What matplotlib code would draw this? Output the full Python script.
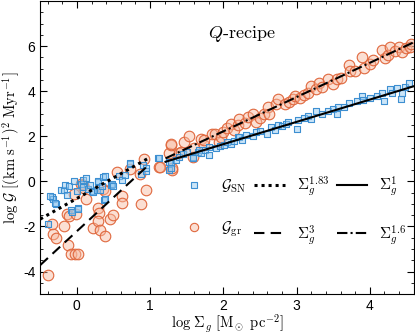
import numpy as np
import matplotlib
matplotlib.use('Agg')
import matplotlib.pyplot as plt
from matplotlib.lines import Line2D
from matplotlib.ticker import MultipleLocator

plt.rcParams['font.family'] = ['Liberation Sans', 'DejaVu Sans']
plt.rcParams['mathtext.fontset'] = 'cm'
plt.rcParams['axes.unicode_minus'] = False

# G_SN points (blue squares): log Sigma_g, log G
sn_x = [-0.39, -0.34, -0.33, -0.29, -0.37, -0.30, -0.21, -0.17, -0.16, -0.14, -0.11, -0.08,
        -0.06, -0.04, 0.00, 0.01, 0.02, 0.05, 0.08, 0.09, 0.12, 0.15, 0.18, 0.20, 0.22, 0.28,
        0.29, 0.29, 0.31, 0.34, 0.36, 0.37, 0.39, 0.39, 0.46, 0.48, 0.50, 0.57, 0.62, 0.66,
        0.72, 0.73, 0.87, 0.90, 0.94, 0.94, 1.11, 1.12, 1.26, 1.26, 1.28, 1.29, 1.35, 1.40,
        1.45, 1.51, 1.58, 1.58, 1.65, 1.67, 1.69, 1.75, 1.81, 1.81, 1.90, 1.95, 2.01, 2.05,
        2.10, 2.15, 2.20, 2.22, 2.25, 2.31, 2.40, 2.45, 2.50, 2.59, 2.65, 2.70, 2.75, 2.80,
        2.86, 2.88, 3.00, 3.02, 3.10, 3.16, 3.20, 3.27, 3.35, 3.43, 3.50, 3.55, 3.57, 3.65,
        3.71, 3.82, 3.89, 3.91, 4.00, 4.10, 4.17, 4.20, 4.28, 4.30, 4.37, 4.42, 4.44, 4.48,
        4.53]
sn_y = [-1.89, -0.68, -0.77, -0.99, -0.65, -0.94, -0.36, -0.39, -0.14, -0.61, -0.19, -1.27,
        -1.35, 0.02, -0.41, -1.16, -1.24, -0.10, -0.26, 0.07, 0.15, -0.35, -0.14, -0.44, -0.46,
        -0.36, -0.04, 0.00, -0.39, -0.22, 0.19, -0.83, 0.22, -0.80, -0.17, -0.12, -0.22, 0.25,
        0.04, 0.29, 0.77, 0.80, 0.32, 0.73, 0.44, 0.58, 1.02, 1.02, 0.87, 0.50, 0.80, 0.60,
        0.95, 1.10, 1.20, 1.31, 1.09, 1.02, 1.30, 1.38, 1.24, 1.40, 1.17, 1.53, 1.46, 1.55,
        1.60, 1.75, 1.68, 1.80, 1.97, 1.97, 1.85, 2.04, 2.00, 2.18, 2.25, 2.11, 2.40, 2.30,
        2.48, 2.45, 2.55, 2.62, 2.33, 2.72, 2.80, 2.91, 2.75, 3.13, 3.00, 3.10, 3.20, 3.01,
        3.28, 3.30, 3.49, 3.57, 3.79, 3.60, 3.70, 3.80, 3.93, 3.57, 4.08, 3.90, 4.15, 3.64,
        3.93, 4.20, 4.37]

# G_gr points (orange circles)
gr_x = [-0.39, -0.34, -0.33, -0.28, -0.17, -0.14, -0.11, -0.12, -0.08, -0.04, -0.01, -0.03,
        0.01, 0.05, 0.09, 0.10, 0.12, 0.22, 0.29, 0.30, 0.29, 0.31, 0.35, 0.38, 0.39, 0.45,
        0.49, 0.55, 0.62, 0.62, 0.73, 0.86, 0.87, 0.91, 0.95, 1.12, 1.14, 1.26, 1.28, 1.28,
        1.30, 1.30, 1.39, 1.42, 1.46, 1.53, 1.58, 1.60, 1.70, 1.74, 1.74, 1.85, 1.88, 1.94,
        1.97, 2.00, 2.05, 2.10, 2.15, 2.20, 2.22, 2.30, 2.33, 2.40, 2.45, 2.50, 2.55, 2.61,
        2.63, 2.72, 2.75, 2.84, 2.90, 2.95, 2.98, 3.05, 3.10, 3.16, 3.20, 3.27, 3.30, 3.35,
        3.43, 3.50, 3.55, 3.60, 3.71, 3.73, 3.80, 3.89, 3.92, 4.00, 4.05, 4.17, 4.21, 4.25,
        4.28, 4.35, 4.40, 4.44, 4.50, 4.55, 4.56]
gr_y = [-4.15, -1.89, -2.33, -2.50, -1.99, -1.45, -1.53, -2.84, -3.20, -0.58, -1.45, -3.22,
        -3.24, -0.10, -0.14, -0.30, -0.80, -2.07, -1.19, -1.41, -1.75, -2.14, -0.35, -2.44,
        -0.44, -1.67, -1.48, 0.41, -0.65, -0.97, 0.54, 0.32, -1.02, 0.99, -0.36, 0.66, 0.66,
        1.24, 1.63, 1.68, 0.51, 0.58, 1.24, 1.31, 1.75, 2.00, 1.09, 1.50, 1.90, 1.60, 1.82,
        2.11, 2.11, 1.75, 1.97, 2.20, 2.35, 2.55, 2.30, 2.48, 2.77, 2.60, 2.84, 2.99, 2.62,
        2.80, 3.00, 3.28, 2.99, 3.42, 3.64, 3.42, 3.50, 3.64, 3.79, 3.70, 3.85, 3.93, 4.22,
        4.08, 4.37, 4.20, 4.52, 4.30, 4.52, 4.60, 5.17, 4.88, 4.90, 5.53, 5.02, 5.20, 5.40,
        5.82, 5.46, 5.60, 5.97, 5.80, 5.97, 5.75, 5.90, 5.95, 6.11]

# fitted power laws (endpoints in log space)
fit_sn_low_x = [-0.5, 1.0]
fit_sn_low_y = [-1.67, 1.07]
fit_gr_low_x = [-0.5, 0.95]
fit_gr_low_y = [-3.71, 0.64]
fit_sn_high_x = [1.21, 4.6]
fit_sn_high_y = [0.87, 4.22]
fit_gr_high_x = [1.21, 4.6]
fit_gr_high_y = [1.02, 6.17]

blue_face = (0.60, 0.80, 0.95, 0.5)
blue_edge = '#3d8fd1'
orange_face = (0.97, 0.72, 0.62, 0.45)
orange_edge = '#e0683e'

fig = plt.figure(figsize=(4.15, 3.35), dpi=100)
ax = fig.add_axes([0.097, 0.122, 0.9, 0.875])

ax.scatter(gr_x, gr_y, s=58, marker='o', facecolor=orange_face, edgecolor=orange_edge,
           linewidth=0.8, zorder=2)
ax.scatter(sn_x, sn_y, s=24, marker='s', facecolor=blue_face, edgecolor=blue_edge,
           linewidth=0.8, zorder=3)

ax.plot(fit_sn_low_x, fit_sn_low_y, color='k', ls=(0, (1, 1.3)), lw=2.2, zorder=4)
ax.plot(fit_gr_low_x, fit_gr_low_y, color='k', ls=(0, (5, 3)), lw=1.5, zorder=4)
ax.plot(fit_sn_high_x, fit_sn_high_y, color='k', ls='-', lw=1.5, zorder=4)
ax.plot(fit_gr_high_x, fit_gr_high_y, color='k', ls=(0, (5, 1.5, 1, 1.5)), lw=1.5, zorder=4)

ax.set_xlim(-0.5, 4.6)
ax.set_ylim(-5, 8)
ax.xaxis.set_major_locator(MultipleLocator(1))
ax.xaxis.set_minor_locator(MultipleLocator(0.2))
ax.yaxis.set_major_locator(MultipleLocator(2))
ax.yaxis.set_minor_locator(MultipleLocator(0.5))
ax.tick_params(which='both', direction='in', top=True, right=True, labelsize=10)
ax.tick_params(which='major', length=5, width=0.8)
ax.tick_params(which='minor', length=2.5, width=0.6)
ax.set_yticks([-4, -2, 0, 2, 4, 6])
for s in ax.spines.values():
    s.set_linewidth(0.8)

ax.set_xlabel(r'$\log\,\Sigma_g\ [{\rm M_\odot\ pc^{-2}}]$', fontsize=10.5, labelpad=0)
ax.set_ylabel(r'$\log\,\mathcal{G}\ [({\rm km\ s^{-1}})^2\ {\rm Myr^{-1}}]$', fontsize=10.5, labelpad=0)

ax.text(0.45, 0.887, r'$Q$' + r'$\text{-recipe}$', transform=ax.transAxes, fontsize=13,
        va='center')

handles = [
    Line2D([], [], ls='none', marker='s', ms=4, mfc=blue_face, mec=blue_edge, mew=0.8),
    Line2D([], [], ls='none', marker='o', ms=6, mfc=orange_face, mec=orange_edge, mew=0.8),
    Line2D([], [], color='k', ls=(0, (1, 1.3)), lw=2.2),
    Line2D([], [], color='k', ls=(0, (5, 3)), lw=1.5),
    Line2D([], [], color='k', ls='-', lw=1.5),
    Line2D([], [], color='k', ls=(0, (5, 1.5, 1, 1.5)), lw=1.5),
]
labels = [r'$\mathcal{G}_{\rm SN}$', r'$\mathcal{G}_{\rm gr}$',
          r'$\Sigma_g^{1.83}$', r'$\Sigma_g^{3}$',
          r'$\Sigma_g^{1}$', r'$\Sigma_g^{1.6}$']
ax.legend(handles, labels, ncol=3, loc='center', bbox_to_anchor=(0.675, 0.285),
          frameon=False, fontsize=11, handlelength=2.0, handletextpad=0.8,
          columnspacing=0.5, labelspacing=1.6)

fig.savefig('out.png', dpi=100)
